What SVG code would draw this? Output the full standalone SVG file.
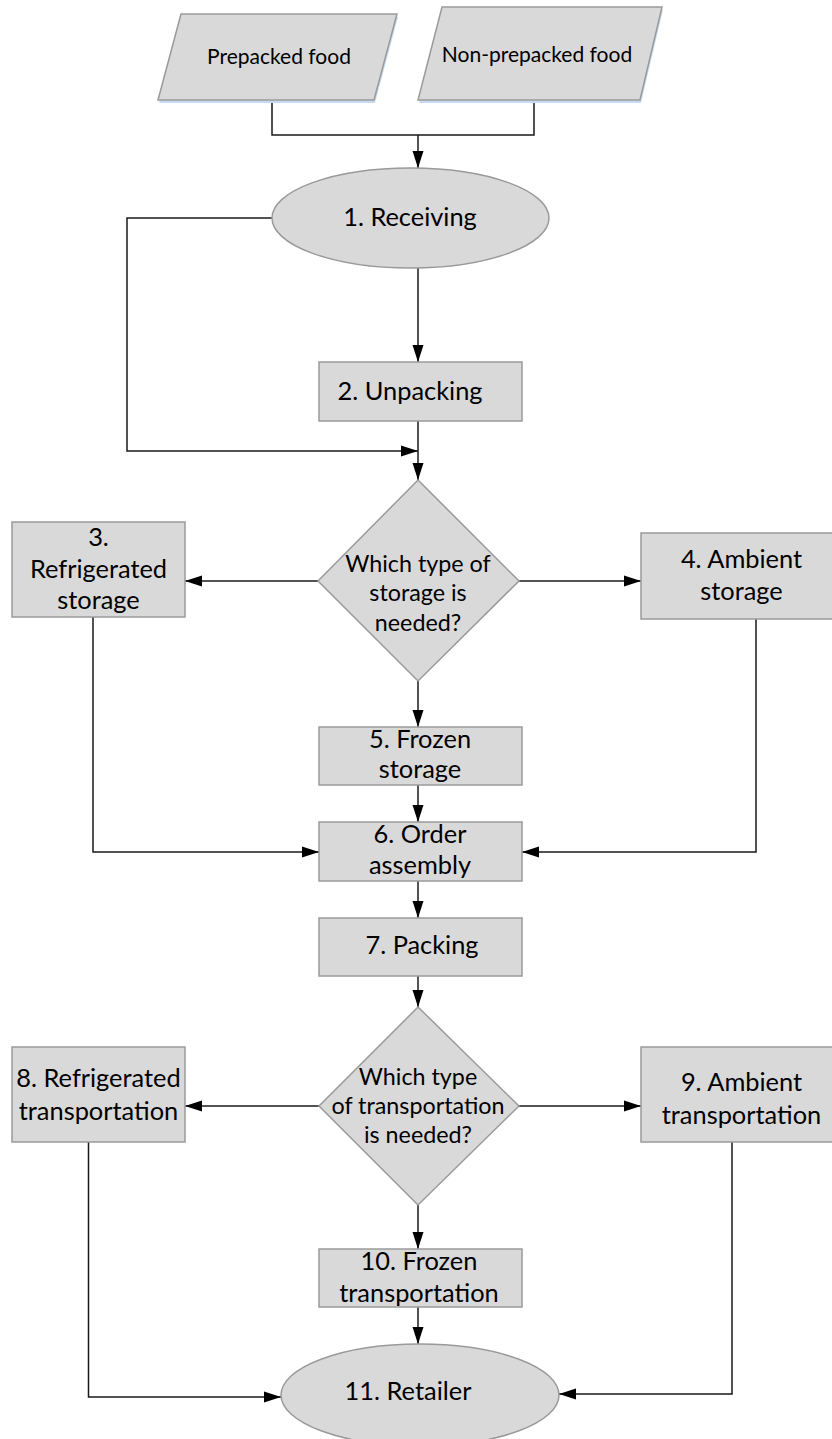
<svg xmlns="http://www.w3.org/2000/svg" width="832" height="1439" viewBox="0 0 832 1439">
<style>
.shape{fill:#d9d9d9;stroke:#9a9a9a;stroke-width:1.5}
.shadow{fill:#c6dbf0;stroke:none}
.t{font-family:Lato,"Liberation Sans",sans-serif;font-size:25.4px;fill:#000;text-anchor:middle}
.td{font-family:Lato,"Liberation Sans",sans-serif;font-size:23.3px;fill:#000;text-anchor:middle}
.tp{font-family:Lato,"Liberation Sans",sans-serif;font-size:21px;fill:#000;text-anchor:middle}
.c{fill:none;stroke:#1a1a1a;stroke-width:1.5}
.ca{fill:none;stroke:#1a1a1a;stroke-width:1.5;marker-end:url(#ah)}
</style>
<defs>
<marker id="ah" markerUnits="userSpaceOnUse" markerWidth="17" markerHeight="12" refX="17" refY="6" orient="auto">
<path d="M0,0.5 L17,6 L0,11.5 z" fill="#000"/>
</marker>
</defs>
<rect width="832" height="1439" fill="#fff"/>

<g id="connectors">
<path class="c" d="M272,100 V135 H534 V100"/>
<path class="ca" d="M418,135 V168"/>
<path class="ca" d="M418,268 V362"/>
<path class="ca" d="M272,218 H127 V451 H418"/>
<path class="ca" d="M418,421 V480"/>
<path class="ca" d="M318,581 H185"/>
<path class="ca" d="M519,581 H641"/>
<path class="ca" d="M418,681 V727"/>
<path class="ca" d="M93,617 V852 H319"/>
<path class="ca" d="M756,619 V852 H522"/>
<path class="ca" d="M418,785 V822"/>
<path class="ca" d="M418,881 V918"/>
<path class="ca" d="M418,976 V1007"/>
<path class="ca" d="M319,1106 H185"/>
<path class="ca" d="M519,1106 H641"/>
<path class="ca" d="M418,1205 V1249"/>
<path class="ca" d="M88.5,1142 V1397 H281"/>
<path class="ca" d="M732,1142 V1394 H559"/>
<path class="ca" d="M418,1307 V1344"/>
</g>

<g id="prepacked">
<polygon class="shadow" points="182,17 398,17 375,103 159,103"/>
<polygon class="shape" points="181,14 397,14 374,100 158,100"/>
<text class="tp" x="279" y="64">Prepacked food</text>
</g>
<g id="nonprepacked">
<polygon class="shadow" points="443,10 663,10 641,103 419,103"/>
<polygon class="shape" points="442,7 662,7 640,100 418,100"/>
<text class="tp" x="537" y="62">Non-prepacked food</text>
</g>

<g id="n1">
<ellipse class="shape" cx="410.5" cy="218" rx="138.5" ry="50"/>
<text class="t" x="410" y="226">1. Receiving</text>
</g>
<g id="n2">
<rect class="shape" x="319" y="362" width="203" height="59"/>
<text class="t" x="410" y="400">2. Unpacking</text>
</g>
<g id="d1">
<polygon class="shape" points="418,480 519,581 418,681 318,581"/>
<text class="td" x="418" y="571.5">Which type of</text>
<text class="td" x="418" y="601">storage is</text>
<text class="td" x="418" y="630.5">needed?</text>
</g>
<g id="n3">
<rect class="shape" x="12" y="522" width="173" height="95"/>
<text class="t" x="98.5" y="545.5">3.</text>
<text class="t" x="98.5" y="577.5">Refrigerated</text>
<text class="t" x="98.5" y="609">storage</text>
</g>
<g id="n4">
<rect class="shape" x="641" y="533" width="201" height="86"/>
<text class="t" x="741.5" y="567.5">4. Ambient</text>
<text class="t" x="741.5" y="599.5">storage</text>
</g>
<g id="n5">
<rect class="shape" x="319" y="727" width="203" height="58"/>
<text class="t" x="420" y="747.5">5. Frozen</text>
<text class="t" x="420" y="778">storage</text>
</g>
<g id="n6">
<rect class="shape" x="319" y="822" width="203" height="59"/>
<text class="t" x="420" y="842.5">6. Order</text>
<text class="t" x="420" y="873.5">assembly</text>
</g>
<g id="n7">
<rect class="shape" x="319" y="918" width="203" height="58"/>
<text class="t" x="422" y="953.5">7. Packing</text>
</g>
<g id="d2">
<polygon class="shape" points="418,1007 519,1106 418,1205 319,1106"/>
<text class="td" x="418" y="1084.5">Which type</text>
<text class="td" x="418" y="1113.5">of transportation</text>
<text class="td" x="418" y="1142.5">is needed?</text>
</g>
<g id="n8">
<rect class="shape" x="12" y="1047" width="173" height="95"/>
<text class="t" x="98.5" y="1086.5">8. Refrigerated</text>
<text class="t" x="98.5" y="1119.5">transportation</text>
</g>
<g id="n9">
<rect class="shape" x="641" y="1047" width="201" height="95"/>
<text class="t" x="741.5" y="1091">9. Ambient</text>
<text class="t" x="741.5" y="1123.5">transportation</text>
</g>
<g id="n10">
<rect class="shape" x="319" y="1249" width="203" height="58"/>
<text class="t" x="419" y="1270">10. Frozen</text>
<text class="t" x="419" y="1302">transportation</text>
</g>
<g id="n11">
<ellipse class="shape" cx="420" cy="1395" rx="139" ry="51"/>
<text class="t" x="408" y="1400">11. Retailer</text>
</g>
</svg>
